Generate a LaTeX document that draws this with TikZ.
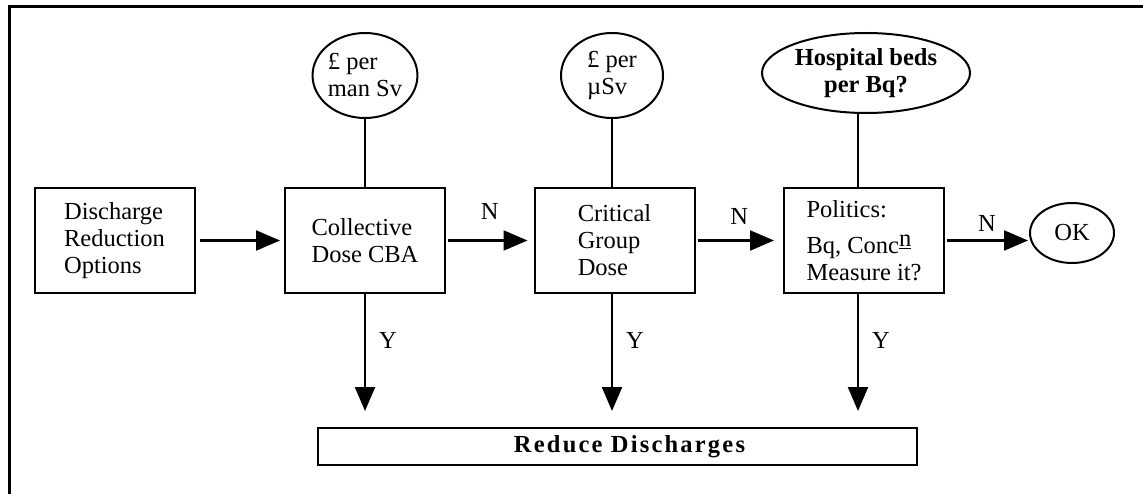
\documentclass[tikz,border=0pt]{standalone}
\usepackage{fontspec}
\setmainfont{Liberation Serif}
\usetikzlibrary{arrows.meta,shapes.geometric}

\begin{document}
\begin{tikzpicture}[x=1pt,y=-1pt,
    >={Triangle[length=24pt,width=20pt]},
    every node/.style={font=\fontsize{24.5}{27}\selectfont},
    stage/.style={draw,line width=2pt,minimum width=160pt,minimum height=105pt,align=left,inner sep=0pt},
    cost/.style={draw,ellipse,line width=2pt,inner sep=0pt,align=left},
    link/.style={line width=2.2pt},
    flow/.style={->,line width=2.2pt},
    yn/.style={inner sep=2pt}]
  \useasboundingbox (0,0) rectangle (1143,494);
  \draw[line width=3.2pt] (9.5,494) -- (9.5,6.5) -- (1143,6.5);

  % decision stages
  \node[stage] at (114.5,240.5) (opts) {Discharge\\Reduction\\Options};
  \node[stage] at (365,240.5) (cba) {Collective\\Dose CBA};
  \node[stage] at (614.5,240.5) (crit) {Critical\\Group\\Dose};
  \node[stage] at (864,240.5) (pol) {Politics:\\[9pt]Bq, Conc\raisebox{7pt}{\underline{n}}\\Measure it?};
  \node[draw,ellipse,line width=2pt,minimum width=84pt,minimum height=60pt,inner sep=0pt] at (1072,233) (ok) {OK};

  % costs
  \node[cost,minimum width=102pt,minimum height=85pt] at (365,75.5) (perman) {\pounds{} per\\man Sv};
  \node[cost,minimum width=102pt,minimum height=85pt] at (612,75.5) (permicro) {\pounds{} per\\µSv};
  \node[cost,align=center,minimum width=208pt,minimum height=80pt,font=\fontsize{24.5}{27}\selectfont\bfseries] at (866,73) (beds) {Hospital beds\\per Bq?};

  \node[draw,line width=2pt,minimum width=599pt,minimum height=37pt,inner sep=0pt,font=\fontsize{24.5}{27}\selectfont\bfseries\addfontfeature{LetterSpace=9}] at (617.5,446.5) (reduce) {\hspace*{24pt}Reduce Discharges};

  \draw[link] (perman) -- (cba);
  \draw[link] (permicro) -- (permicro |- crit.north);
  \draw[link] ([xshift=-6pt]pol.north) -- ([xshift=-6pt]pol.north |- beds.south);

  \draw[flow,shorten <=4pt,shorten >=4pt] (opts) -- (cba);
  \draw[flow,shorten <=2pt,shorten >=6pt] (cba) -- (crit) node[yn,midway,above=18pt] (n1) {N};
  \draw[flow,shorten <=2pt,shorten >=9pt] (crit) -- (pol) node[yn,midway,above=13pt] (n2) {N};
  \draw[flow,shorten <=2pt,shorten >=1pt] (pol.east) -- (pol.east -| ok.west) node[yn,midway,above=6pt] (n3) {N};

  \draw[flow,shorten >=16pt] (cba) -- (cba |- reduce.north) node[yn,pos=0.35,right=11pt] (y1) {Y};
  \draw[flow,shorten >=16pt] (crit.south -| permicro) -- (permicro |- reduce.north) node[yn,pos=0.35,right=11pt] (y2) {Y};
  \draw[flow,shorten >=16pt] ([xshift=-6pt]pol.south) -- ([xshift=-6pt]pol.south |- reduce.north) node[yn,pos=0.35,right=11pt] (y3) {Y};
\end{tikzpicture}
\end{document}
